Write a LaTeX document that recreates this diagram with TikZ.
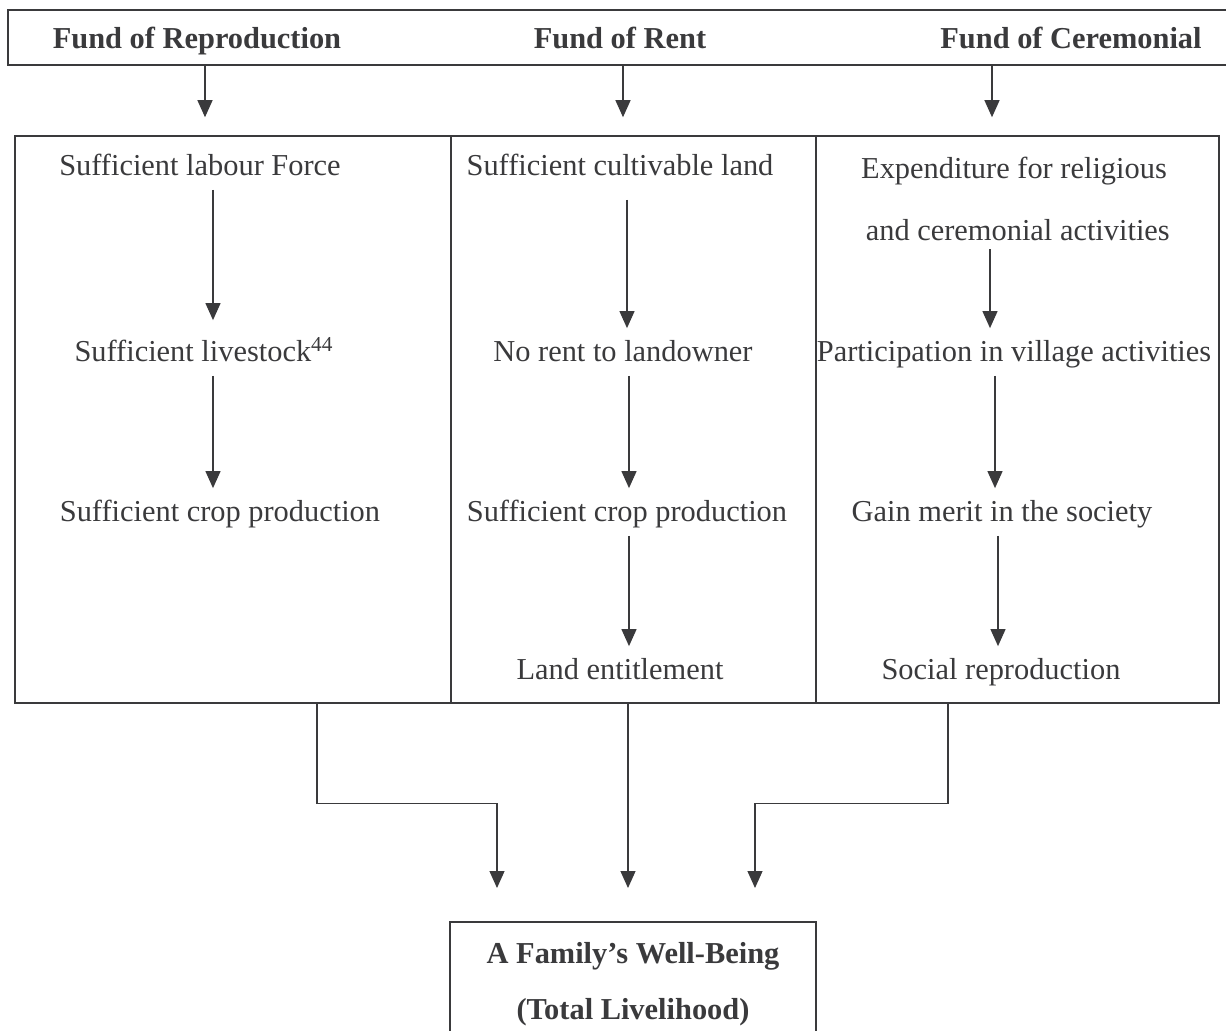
\documentclass[tikz,border=0pt]{standalone}
\usepackage{fontspec}
\setmainfont{Liberation Serif}
\usepackage{xcolor}
\usepackage{tikz}
\usetikzlibrary{arrows.meta,calc,positioning}
\definecolor{ink}{HTML}{3A3A3C}
\tikzstyle{arrow} = [draw=ink, line width=0.6pt, -{Triangle[length=8.5pt,width=7.5pt]}, shorten <=4pt, shorten >=6pt]
\tikzstyle{link} = [draw=ink, line width=0.6pt, -{Triangle[length=8.5pt,width=7.5pt]}, shorten >=16.5pt]
\tikzstyle{box} = [rectangle, draw=ink, line width=0.8pt, inner sep=0pt]
\tikzstyle{item} = [inner sep=0pt, text height=10.5pt, text depth=3pt, text=ink, font={\fontsize{15.2}{18}\selectfont}]
\tikzstyle{fund} = [item, font={\fontsize{15.2}{18}\selectfont\bfseries}]

\begin{document}
\begin{tikzpicture}[
    auto,
    x = 0.5pt,
    y = -0.5pt
  ]
    \useasboundingbox (0,0) rectangle (1226,1030);
    \fill [white] (0,0) rectangle (1226,1030);
    % the three funds
    \node [box, minimum width=616pt, minimum height=27.5pt] at (624,37.5) (funds) {};
    \node [fund] at (197,41) (repro) {Fund of Reproduction};
    \node [fund] at (620,41) (rent) {Fund of Rent};
    \node [fund] at (1071,41) (cerem) {Fund of Ceremonial};
    % columns
    \node [box, minimum width=218pt, minimum height=283.5pt] at (233,419.5) (colA) {};
    \node [box, minimum width=182.5pt, minimum height=283.5pt] at (633.5,419.5) (colB) {};
    \node [box, minimum width=201.5pt, minimum height=283.5pt] at (1017.5,419.5) (colC) {};
    \path [link, shorten >=9pt] (funds.south -| 205,0) -- (colA.north -| 205,0);
    \path [link, shorten >=9pt] (funds.south -| 623,0) -- (colB.north -| 623,0);
    \path [link, shorten >=9pt] (funds.south -| 992,0) -- (colC.north -| 992,0);
    % reproduction
    \node [item] at (200,168) (labour) {Sufficient labour Force};
    \node [item] at (204,354) (stock) {Sufficient livestock\textsuperscript{44}};
    \node [item] at (220,514) (cropA) {Sufficient crop production};
    \path [arrow, shorten >=10pt] (labour.south -| 213,0) -- (stock.north -| 213,0);
    \path [arrow] (stock.south -| 213,0) -- (cropA.north -| 213,0);
    % rent
    \node [item] at (620,168) (land) {Sufficient cultivable land};
    \node [item] at (623,354) (norent) {No rent to landowner};
    \node [item] at (627,514) (cropB) {Sufficient crop production};
    \node [item] at (620,672) (title) {Land entitlement};
    \path [arrow, shorten <=9pt] (land.south -| 627,0) -- (norent.north -| 627,0);
    \path [arrow] (norent.south -| 629,0) -- (cropB.north -| 629,0);
    \path [arrow] (cropB.south -| 629,0) -- (title.north -| 629,0);
    % ceremonial
    \node [item, text height=, text depth=, align=center, font={\fontsize{15.2}{31}\selectfont}] at (1014,199) (spend)
      {Expenditure for religious\\ \ and ceremonial activities};
    \node [item] at (1014,354) (village) {Participation in village activities};
    \node [item] at (1002,514) (merit) {Gain merit in the society};
    \node [item] at (1001,672) (social) {Social reproduction};
    \path [arrow] (spend.south -| 990,0) -- (village.north -| 990,0);
    \path [arrow] (village.south -| 995,0) -- (merit.north -| 995,0);
    \path [arrow] (merit.south -| 998,0) -- (social.north -| 998,0);
    % well-being
    \node [box, minimum width=183pt, minimum height=62pt, align=center, text=ink,
      font={\fontsize{15.2}{28}\selectfont\bfseries}, anchor=north] at (633,921) (well)
      {A Family’s Well-Being\\(Total Livelihood)};
    \path [link] (colA.south -| 317,0) -- ++(0,100) -| ($(well.north)+(-68pt,0)$);
    \path [link] (colB.south -| 628,0) -- (well.north -| 628,0);
    \path [link] (colC.south -| 948,0) -- ++(0,100) -| ($(well.north)+(61pt,0)$);
  \end{tikzpicture}
\end{document}
